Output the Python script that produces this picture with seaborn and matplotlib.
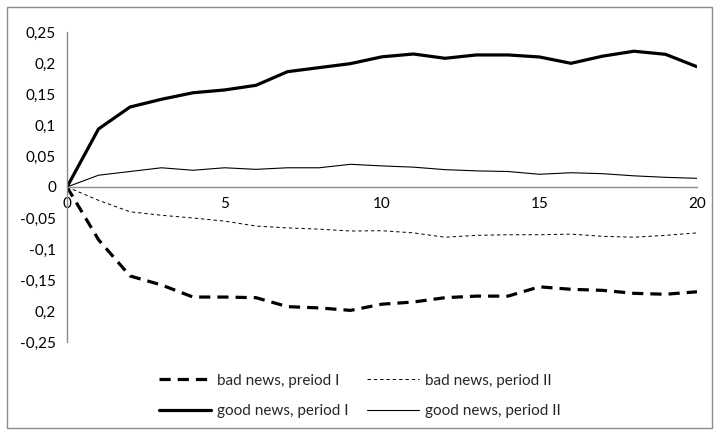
import numpy as np
import pandas as pd
import seaborn as sns
from matplotlib import pyplot as plt
from matplotlib.lines import Line2D
from matplotlib.patches import Rectangle

# horizon (periods after the news)
steps = list(range(21))

bad_news_p1 = [0, -0.085, -0.1435, -0.158, -0.1775, -0.1775, -0.1785, -0.193, -0.195, -0.199,
               -0.189, -0.1855, -0.1785, -0.176, -0.176, -0.161, -0.165, -0.1667, -0.1715,
               -0.173, -0.169]
bad_news_p2 = [0, -0.0215, -0.040, -0.0456, -0.050, -0.055, -0.063, -0.066, -0.068, -0.071,
               -0.0705, -0.074, -0.081, -0.078, -0.077, -0.077, -0.076, -0.0795, -0.081,
               -0.078, -0.074]
good_news_p1 = [0, 0.0936, 0.129, 0.1415, 0.152, 0.1565, 0.164, 0.186, 0.1925, 0.199, 0.210,
                0.2145, 0.2076, 0.213, 0.213, 0.2097, 0.1995, 0.211, 0.219, 0.214, 0.194]
good_news_p2 = [0, 0.019, 0.025, 0.031, 0.027, 0.031, 0.0285, 0.031, 0.031, 0.0366, 0.034,
                0.032, 0.028, 0.026, 0.025, 0.0205, 0.023, 0.0215, 0.018, 0.0156, 0.014]

series_names = ['bad news, preiod I', 'bad news, period II',
                'good news, period I', 'good news, period II']
y_ticks = [0.25, 0.2, 0.15, 0.1, 0.05, 0, -0.05, -0.1, -0.15, -0.2, -0.25]
y_tick_labels = ['0,25', '0,2', '0,15', '0,1', '0,05', '0', '-0,05', '-0,1', '-0,15',
                 '0,2', '-0,25']
x_ticks = [0, 5, 10, 15, 20]

sns.set_style('white')
plt.rcParams['font.family'] = ['Lato', 'DejaVu Sans']

df = pd.DataFrame({
    'step': steps * 4,
    'value': bad_news_p1 + bad_news_p2 + good_news_p1 + good_news_p2,
    'series': np.repeat(series_names, len(steps)),
})

styles = {
    series_names[0]: dict(lw=2.3, dashes=(3.5, 2.2)),
    series_names[1]: dict(lw=0.7, dashes=(3.5, 3)),
    series_names[2]: dict(lw=2.3, dashes=None),
    series_names[3]: dict(lw=0.8, dashes=None),
}

fig = plt.figure(figsize=(7.17, 4.34), dpi=100)
ax = fig.add_axes([67 / 717, 1 - 342 / 434, 630 / 717, 310 / 434])

for name in series_names:
    sub = df[df.series == name]
    st = styles[name]
    sns.lineplot(data=sub, x='step', y='value', ax=ax, color='black',
                 linewidth=st['lw'], legend=False)
    if st['dashes']:
        ax.lines[-1].set_dashes(st['dashes'])

ax.set_xlim(0, 20)
ax.set_ylim(-0.25, 0.25)
ax.set_xlabel('')
ax.set_ylabel('')

ax.set_yticks(y_ticks)
ax.set_yticklabels(y_tick_labels)
ax.set_xticks(x_ticks)
ax.set_xticklabels([str(t) for t in x_ticks])

for side in ['top', 'right']:
    ax.spines[side].set_visible(False)
ax.spines['bottom'].set_position(('data', 0))
for side in ['left', 'bottom']:
    ax.spines[side].set_color('#8c8c8c')
    ax.spines[side].set_linewidth(1)
ax.tick_params(axis='both', which='both', direction='out', length=4, width=1,
               color='#8c8c8c', labelsize=11, labelcolor='black')
ax.tick_params(axis='y', pad=4)
ax.tick_params(axis='x', pad=3)

handles = {}
for name in series_names:
    st = styles[name]
    h = Line2D([0], [0], color='black', linewidth=st['lw'])
    if st['dashes']:
        h.set_dashes(st['dashes'])
    handles[name] = h

# legend fills column-wise: rows are bad news / good news
legend_order = [series_names[0], series_names[2], series_names[1], series_names[3]]
fig.legend([handles[n] for n in legend_order], legend_order, ncol=2, loc='center',
           bbox_to_anchor=(360 / 717, 1 - 396 / 434),
           frameon=False, fontsize=11, handlelength=3.4, handletextpad=0.4,
           columnspacing=1.2, labelspacing=1.1)

fig.patches.append(Rectangle((7 / 717, 6 / 434), 705 / 717, 421 / 434, transform=fig.transFigure,
                             fill=False, edgecolor='#8c8c8c', linewidth=1))

fig.savefig('out.png', dpi=100)
